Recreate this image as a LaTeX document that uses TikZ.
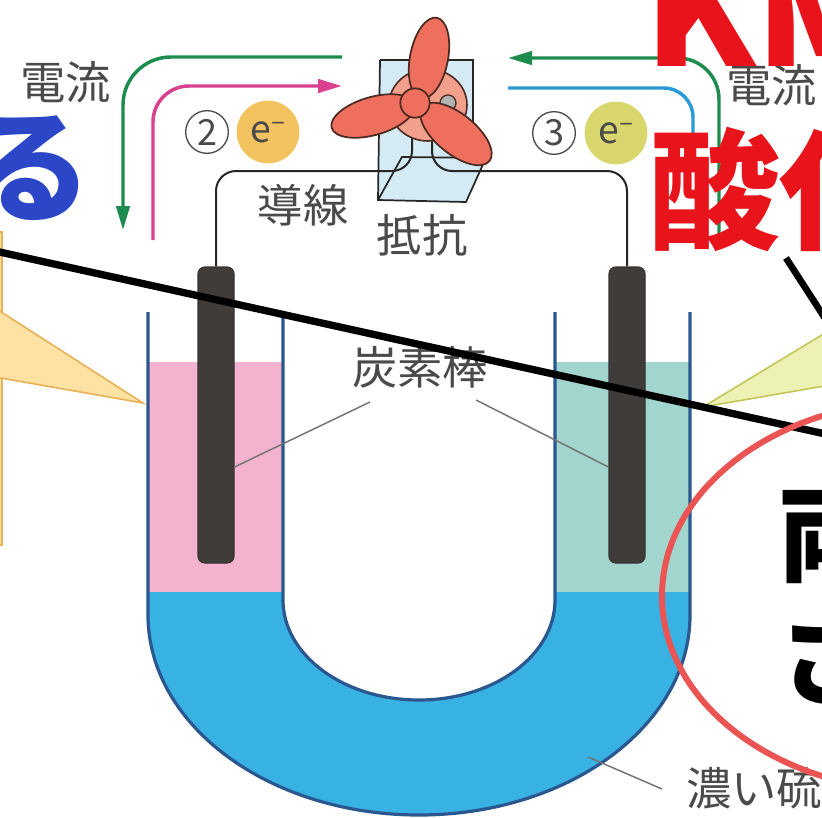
\documentclass[tikz,border=0pt]{standalone}
\usepackage{fontspec}
\newfontfamily\jp{Noto Sans CJK JP}
\usetikzlibrary{arrows.meta,calc}

\definecolor{labelgray}{HTML}{4A4A4A}
\definecolor{wallblue}{HTML}{2A5790}
\definecolor{sulf}{HTML}{38B2E3}
\definecolor{pinkliq}{HTML}{F3B3CF}
\definecolor{tealliq}{HTML}{A3D5CF}
\definecolor{rodgray}{HTML}{403C3A}
\definecolor{curgreen}{HTML}{1E8C4E}
\definecolor{curmag}{HTML}{D9408E}
\definecolor{curblue}{HTML}{2A9BD6}
\definecolor{eorange}{HTML}{F2C35F}
\definecolor{eyellow}{HTML}{DAD66E}
\definecolor{fanred}{HTML}{EF6F5F}
\definecolor{fandisk}{HTML}{F2A08C}
\definecolor{fanline}{HTML}{4B2A22}
\definecolor{boxblue}{HTML}{D4EAF4}
\definecolor{redtext}{HTML}{E8131B}
\definecolor{bluetext}{HTML}{2B47C7}
\definecolor{circlered}{HTML}{EA5452}
\definecolor{bubOfill}{HTML}{FDE2A4}
\definecolor{bubOedge}{HTML}{EAB257}
\definecolor{bubGfill}{HTML}{EEF1B4}
\definecolor{bubGedge}{HTML}{C3C75A}

\begin{document}
\begin{tikzpicture}[x=0.75pt,y=-0.75pt,
  lbl/.style={font=\jp\fontsize{34pt}{36pt}\selectfont, text=labelgray, inner sep=0pt},
  wall/.style={draw=wallblue, line width=2.4pt},
  rod/.style={draw=black!80, fill=rodgray, line width=0.8pt, rounded corners=5pt,
    minimum width=27pt, minimum height=222pt, inner sep=0pt},
  wire/.style={draw=black!85, line width=1.5pt},
  leader/.style={draw=black!55, line width=1.1pt},
  curline/.style={line width=2.6pt},
  curhead/.style={-{Triangle[length=18pt,width=10pt]}},
  blade/.style={fill=fanred, draw=fanline, line width=1.3pt},
  boxline/.style={draw=black!85, line width=1.3pt},
  numring/.style={circle, draw=labelgray, line width=1pt, minimum size=32pt, inner sep=0pt,
    font=\jp\fontsize{27pt}{28pt}\selectfont, text=labelgray},
  eball/.style={circle, minimum size=47pt, inner sep=0pt,
    font=\jp\fontsize{28pt}{28pt}\selectfont, text=labelgray},
  bigbold/.style={inner sep=0pt, font=\jp\bfseries\fontsize{#1}{#1}\selectfont}
]
\useasboundingbox (0,0) rectangle (822,818);
\fill[white] (0,0) rectangle (822,818);
\begin{scope}
\clip (0,0) rectangle (822,818);

% ---------- U-tube liquids ----------
\fill[pinkliq] (148,362) rectangle (283,594);
\fill[tealliq] (555,362) rectangle (690,594);
\fill[sulf] (148,592) -- (148,615) arc[start angle=180, end angle=0, x radius=271, y radius=200]
  -- (690,592) -- (555,592) -- (555,600)
  arc[start angle=0, end angle=180, x radius=136, y radius=100] -- (283,592) -- cycle;

% ---------- carbon rods ----------
\node[rod] (rodL) at (216,415) {};
\node[rod] (rodR) at (627,415) {};

% ---------- glass walls ----------
\draw[wall] (148,312) -- (148,615) arc[start angle=180, end angle=0, x radius=271, y radius=200] -- (690,312);
\draw[wall] (283,312) -- (283,600) arc[start angle=180, end angle=0, x radius=136, y radius=100] -- (555,312);

% ---------- resistor box ----------
\fill[boxblue] (380,60) -- (473,60) -- (473,157) -- (485,158) -- (466,202) -- (378,200) -- cycle;
\draw[boxline] (380,60) -- (473,60) -- (473,157);
\draw[boxline] (380,60) -- (378,200) -- (466,202) -- (485,160) -- (485,157);
\draw[boxline] (378,200) -- (402,157) -- (485,158);

% ---------- wires ----------
\coordinate (legL) at (412,135);
\coordinate (legR) at (432,140);
\coordinate (wy) at (0,171);
\draw[wire, rounded corners=15pt] (rodL.north) -- (rodL.north |- wy) -- (legL |- wy) -- (legL);
\draw[wire, rounded corners=15pt] (rodR.north) -- (rodR.north |- wy) -- (legR |- wy) -- (legR);

% ---------- fan ----------
\draw[fill=fandisk, draw=fanline, line width=1.2pt] (428,105) ellipse [x radius=39, y radius=36];
\draw[fill=black!30, draw=fanline, line width=1pt] (448,103) circle [radius=8];
\fill[white!70!black] (448,103) circle [radius=3];
\draw[blade, rotate around={79:(429,58)}] (429,58) ellipse [x radius=41, y radius=19];
\draw[blade, rotate around={16:(373,116)}] (373,116) ellipse [x radius=43, y radius=19];
\draw[blade, rotate around={-39:(456,134)}] (456,134) ellipse [x radius=43, y radius=20];
\node[circle, fill=fanred, draw=fanline, line width=1.3pt, minimum size=22pt, inner sep=0pt] (hub) at (415,103) {};

% ---------- current / electron arrows ----------
\coordinate (gL0) at (342,57);  \coordinate (gL1) at (123,230);
\coordinate (mL0) at (153,240); \coordinate (mL1) at (342,86);
\coordinate (gR0) at (719,243); \coordinate (gR1) at (508,58);
\coordinate (bR0) at (693,140); \coordinate (bR1) at (508,88);
\draw[curline, curgreen, curhead, rounded corners=36pt] (gL0) -| (gL1);
\draw[curline, curmag, curhead, rounded corners=27pt] (mL0) |- (mL1);
\draw[curline, curgreen, curhead, rounded corners=31pt] (gR0) |- (gR1);
\draw[curline, curblue, rounded corners=22pt] (bR0) |- (bR1);

% ---------- labels ----------
\node[lbl] (curL) at (66,82) {電流};
\node[lbl, anchor=west] (curR) at (726,85) {電流};
\node[numring] (n2) at (207,132) {2};
\node[eball, fill=eorange] (e2) at (268,132) {e\textsuperscript{–}};
\node[numring] (n3) at (554,133) {3};
\node[eball, fill=eyellow] (e3) at (616,133) {e\textsuperscript{–}};
\node[lbl] (wireLbl) at (303,205) {導線};
\node[lbl] (resLbl) at (422,235) {抵抗};
\node[lbl] (rodLbl) at (420,367) {炭素棒};
\node[lbl, anchor=west] (acidLbl) at (686,788) {濃い硫};

\coordinate (hy) at (0,467);
\draw[leader] (370,402) -- (rodL.east |- hy);
\draw[leader] (476,400) -- (rodR.west |- hy);
\coordinate (acidTip) at (588,757);
\draw[leader] (acidTip) -- (662,789);

% ---------- call-out bubbles ----------
\draw[fill=bubOfill, draw=bubOedge, line width=1.2pt] (-300,232) rectangle (2,545);
\fill[bubOfill] (-5,308) -- (143,403) -- (-5,377) -- cycle;
\draw[bubOedge, line width=1.2pt] (-5,308) -- (143,403) -- (-5,377);
\fill[bubGfill] (830,330) -- (703,407) -- (830,385) -- cycle;
\draw[bubGedge, line width=1.2pt] (830,330) -- (703,407) -- (830,385);

% ---------- overlaid marks ----------
\draw[black, line width=5.5pt] (-5,251) -- (830,435);
\draw[black, line width=5pt] (786,258) -- (830,326);

\node[bigbold=92pt, text=bluetext, anchor=east] (ru) at (92,168) {る};
\node[bigbold=118pt, text=redtext, anchor=base west] (km) at (644,66) {KM};
\node[bigbold=98pt, text=redtext, anchor=west] (sanka) at (649,189) {酸化};

\draw[circlered, line width=4.5pt] (922,596) ellipse [x radius=260, y radius=195];
\node[bigbold=79pt, text=black, anchor=west] (ryo) at (778,537) {両};
\node[bigbold=79pt, text=black, anchor=west] (sa) at (778,657) {さ};
\end{scope}
\end{tikzpicture}
\end{document}
